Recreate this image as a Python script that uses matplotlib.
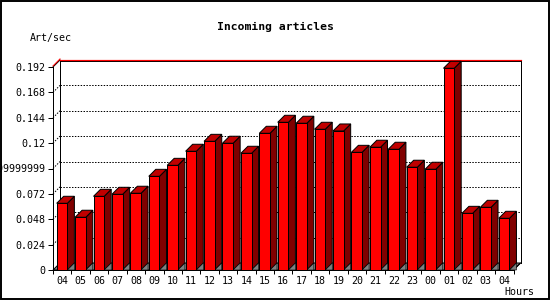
import matplotlib.pyplot as plt
from matplotlib.patches import Polygon, Rectangle

hours = ['04', '05', '06', '07', '08', '09', '10', '11', '12', '13', '14', '15',
         '16', '17', '18', '19', '20', '21', '22', '23', '00', '01', '02', '03', '04']
values = [0.0631, 0.0499, 0.0697, 0.0716, 0.0726, 0.0886, 0.0990, 0.1123, 0.1217,
          0.1199, 0.1104, 0.1293, 0.1397, 0.1388, 0.1331, 0.1315, 0.1113, 0.1161,
          0.1142, 0.0972, 0.0953, 0.1908, 0.0536, 0.0593, 0.0489]
yticks = [0, 0.024, 0.048, 0.072, 0.096, 0.12, 0.144, 0.168, 0.192]
ytick_labels = ['0', '0.024', '0.048', '0.072', '0.09599999999', '0.12', '0.144', '0.168', '0.192']

plt.rcParams['font.family'] = 'DejaVu Sans Mono'
PX = 0.72  # one pixel in points at dpi 100

fig = plt.figure(figsize=(5.5, 3.0), dpi=100)
fig.patches.append(Rectangle((0.001, 0.002), 0.997, 0.995, transform=fig.transFigure,
                             fill=False, edgecolor='black', linewidth=1.4))

# front plane of the plot, in pixels: x 53..513.5, y 67..270
ax = fig.add_axes([53 / 550, 30 / 300, 460.5 / 550, 203 / 300])
n = len(values)
ymax = 0.192
ax.set_xlim(0, n)
ax.set_ylim(0, ymax)

# 3d depth: 7 pixels right and up
dx = 7 * n / 460.5
dy = 7 * ymax / 203

# floor
ax.add_patch(Polygon([(0, 0), (n, 0), (n + dx, dy), (dx, dy)], closed=True,
                     facecolor='#808080', edgecolor='black', linewidth=PX,
                     zorder=1, clip_on=False))

# back wall grid lines
for v in yticks[1:-1]:
    ax.plot([dx, n + dx], [v + dy, v + dy], color='black', linewidth=PX,
            linestyle=(0, (2 * PX, 2 * PX)), zorder=1.5, clip_on=False)
    ax.plot([0, dx], [v, v + dy], color='black', linewidth=PX,
            linestyle=(0, (2 * PX, 2 * PX)), zorder=1.5, clip_on=False)
# back wall frame
ax.plot([dx, dx], [dy, ymax + dy], color='black', linewidth=PX, zorder=1.5, clip_on=False)
ax.plot([n + dx, n + dx], [dy, ymax + dy], color='black', linewidth=PX, zorder=1.5, clip_on=False)
ax.plot([n, n + dx], [0, dy], color='black', linewidth=PX, zorder=1.5, clip_on=False)
ax.plot([dx, n + dx], [ymax + dy * 0.86, ymax + dy * 0.86], color='black', linewidth=PX,
        zorder=1.5, clip_on=False)
ax.plot([0, dx], [ymax, ymax + dy], color='black', linewidth=PX, zorder=1.5, clip_on=False)
ax.plot([dx, n + dx], [ymax + dy, ymax + dy], color='red', linewidth=PX * 1.2,
        zorder=1.6, clip_on=False)
ax.plot([0, dx], [ymax + 0.001, ymax + dy + 0.001], color='red', linewidth=PX,
        zorder=1.6, clip_on=False)

# bars
off = 0.2
w = 0.58
for i, v in enumerate(values):
    x0 = i + off
    x1 = x0 + w
    ax.add_patch(Polygon([(x1, 0), (x1 + dx, dy), (x1 + dx, v + dy), (x1, v)], closed=True,
                         facecolor='#800000', edgecolor='black', linewidth=PX,
                         zorder=3, clip_on=False))
    ax.add_patch(Polygon([(x0, v), (x1, v), (x1 + dx, v + dy), (x0 + dx, v + dy)], closed=True,
                         facecolor='#c00000', edgecolor='black', linewidth=PX,
                         zorder=3, clip_on=False))
    ax.add_patch(Polygon([(x1, 0), (x1 + dx, dy), (x1 + dx, 0)], closed=True,
                         facecolor='#808080', edgecolor='black', linewidth=PX * 0.6,
                         zorder=3, clip_on=False))
    ax.add_patch(Rectangle((x0, 0), w, v, facecolor='#ff0000', edgecolor='black',
                           linewidth=PX, zorder=3.1, clip_on=False))

for s in ['top', 'right']:
    ax.spines[s].set_visible(False)
for s in ['left', 'bottom']:
    ax.spines[s].set_linewidth(PX)
    ax.spines[s].set_zorder(4)
ax.patch.set_visible(False)

ax.set_yticks(yticks)
ax.set_yticklabels(ytick_labels, fontsize=7.2)
ax.tick_params(axis='y', length=5 * PX, width=PX, pad=2)

ax.set_xticks([i + 0.5 for i in range(n)])
ax.set_xticklabels(hours, fontsize=7.2)
ax.set_xticks(range(n + 1), minor=True)
ax.tick_params(axis='x', which='major', length=0, pad=4)
ax.tick_params(axis='x', which='minor', length=4 * PX, width=PX)

fig.text(275 / 550, 1 - 27 / 300, 'Incoming articles', ha='center', va='center',
         fontsize=8.2, fontweight='bold')
fig.text(30 / 550, 1 - 38 / 300, 'Art/sec', ha='left', va='center', fontsize=7.2)
fig.text(504 / 550, 1 - 292 / 300, 'Hours', ha='left', va='center', fontsize=7.2)

fig.savefig('out.png', dpi=100)
